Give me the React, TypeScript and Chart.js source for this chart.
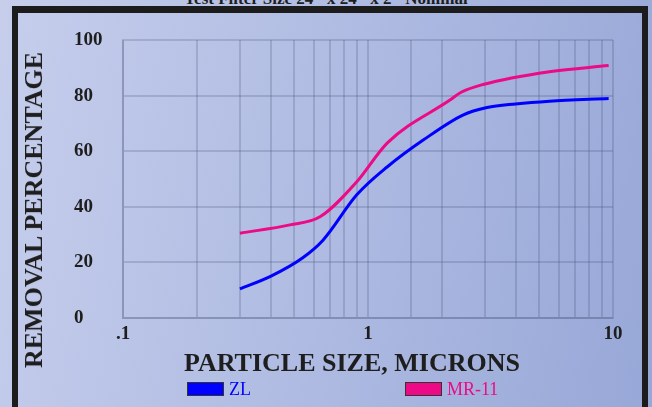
import React, { useEffect, useRef } from 'react';
import { Chart, registerables } from 'chart.js';

Chart.register(...registerables);

const zlSize = [0.3, 0.4, 0.54, 0.655, 0.9, 1.2, 1.68, 2.44, 3.06, 4.0, 5.5, 9.6];
const zlRemoval = [10.5, 15, 21.6, 28, 44.3, 54.4, 64, 73, 75.7, 77, 78, 79];
const mrSize = [0.3, 0.48, 0.637, 0.9, 1.2, 2.16, 2.4, 2.95, 5.5, 9.6];
const mrRemoval = [30.5, 33.5, 36.4, 49, 63, 78.4, 81.2, 84, 88.6, 90.8];
const seriesNames = ['ZL', 'MR-11'];
const xMajorLabels: Record<string, string> = { '-1': '.1', '0': '1', '1': '10' };
const titleText = 'Test Filter Size 24" x 24" x 2" Nominal';
const xTitle = 'PARTICLE SIZE, MICRONS';
const yTitle = 'REMOVAL PERCENTAGE';

const BLUE = '#0000ff';
const MAGENTA = '#ec0a86';
const GRID = 'rgba(55,65,105,0.2)';
const SERIF = '"Liberation Serif", "DejaVu Serif", serif';

export default function App() {
  const ref = useRef<HTMLCanvasElement | null>(null);

  useEffect(() => {
    document.body.style.margin = '0';
    const ctx = ref.current!;
    const chart = new Chart(ctx, {
      type: 'line',
      data: {
        datasets: [
          {
            label: seriesNames[0],
            data: zlSize.map((x, i) => ({ x, y: zlRemoval[i] })),
            borderColor: BLUE,
            backgroundColor: BLUE,
            borderWidth: 3,
            pointRadius: 0,
            cubicInterpolationMode: 'monotone',
          },
          {
            label: seriesNames[1],
            data: mrSize.map((x, i) => ({ x, y: mrRemoval[i] })),
            borderColor: MAGENTA,
            backgroundColor: MAGENTA,
            borderWidth: 3,
            pointRadius: 0,
            cubicInterpolationMode: 'monotone',
          },
        ],
      },
      options: {
        animation: false,
        responsive: false,
        maintainAspectRatio: false,
        layout: { padding: { left: 74, top: 40, right: 39, bottom: 0 } },
        plugins: { legend: { display: false }, tooltip: { enabled: false } },
        scales: {
          x: {
            type: 'logarithmic',
            min: 0.1,
            max: 10,
            afterFit: (s: any) => {
              s.height = 89;
            },
            border: { display: true, color: GRID, width: 2 },
            grid: { color: GRID, lineWidth: 2, drawTicks: false },
            ticks: {
              autoSkip: false,
              maxRotation: 0,
              padding: 5,
              color: '#1e1e1e',
              font: { family: SERIF, size: 19, weight: 'bold' },
              callback: (v: any) => {
                const l = Math.log10(Number(v));
                const r = Math.round(l);
                if (Math.abs(l - r) < 1e-6) return xMajorLabels[String(r)] ?? '';
                return '';
              },
            },
          },
          y: {
            min: 0,
            max: 100,
            afterFit: (s: any) => {
              s.width = 49;
            },
            border: { display: true, color: GRID, width: 2 },
            grid: { color: GRID, lineWidth: 2, drawTicks: false },
            ticks: {
              stepSize: 20,
              crossAlign: 'far',
              color: '#1e1e1e',
              font: { family: SERIF, size: 19, weight: 'bold' },
            },
          },
        },
      },
    } as any);
    return () => chart.destroy();
  }, []);

  return (
    <div
      style={{
        position: 'fixed',
        left: 0,
        top: 0,
        width: 652,
        height: 407,
        overflow: 'hidden',
        background: 'linear-gradient(100deg, #c6ceec 0%, #afbbe2 50%, #97a7d7 100%)',
        fontFamily: SERIF,
      }}
    >
      <div
        style={{
          position: 'absolute',
          left: 0,
          width: 652,
          top: -10,
          textAlign: 'center',
          fontSize: 17,
          lineHeight: '17px',
          fontWeight: 'bold',
          color: '#1e1e1e',
          whiteSpace: 'nowrap',
        }}
      >
        {titleText}
      </div>
      <div
        style={{
          position: 'absolute',
          left: 12,
          top: 6,
          width: 624,
          height: 600,
          borderTop: '7px solid #1c1c1c',
          borderLeft: '6px solid #1c1c1c',
          borderRight: '6px solid #1c1c1c',
        }}
      />
      <canvas ref={ref} width={652} height={407} style={{ position: 'absolute', left: 0, top: 0, width: 652, height: 407 }} />
      <div
        style={{
          position: 'absolute',
          left: 34,
          top: 210,
          transform: 'translate(-50%, -50%) rotate(-90deg)',
          fontSize: 26,
          fontWeight: 'bold',
          color: '#1e1e1e',
          whiteSpace: 'nowrap',
          lineHeight: '26px',
        }}
      >
        {yTitle}
      </div>
      <div
        style={{
          position: 'absolute',
          left: 352,
          top: 363,
          transform: 'translate(-50%, -50%)',
          fontSize: 26,
          fontWeight: 'bold',
          color: '#1e1e1e',
          whiteSpace: 'nowrap',
          lineHeight: '26px',
        }}
      >
        {xTitle}
      </div>
      {[
        { left: 187, color: BLUE, name: seriesNames[0] },
        { left: 405, color: MAGENTA, name: seriesNames[1] },
      ].map((it) => (
        <div key={it.name} style={{ position: 'absolute', left: it.left, top: 380, display: 'flex', alignItems: 'center' }}>
          <div style={{ width: 35, height: 12, background: it.color, border: '1.5px solid #333' }} />
          <span style={{ marginLeft: 5, color: it.color, fontSize: 18, lineHeight: '18px' }}>{it.name}</span>
        </div>
      ))}
    </div>
  );
}
